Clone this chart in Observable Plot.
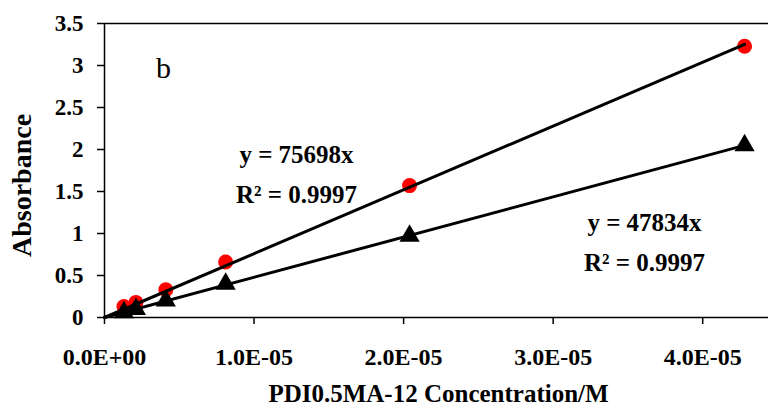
<!DOCTYPE html>
<html><head><meta charset="utf-8">
<script src="https://cdn.jsdelivr.net/npm/d3@7"></script>
<script src="https://cdn.jsdelivr.net/npm/@observablehq/plot@0.6"></script>
<style>
body{margin:0;background:#fff;}
svg text{font-family:"Liberation Serif","Times New Roman",serif;}
</style>
</head><body><div id="chart"></div>
<script>
// Data
const concentration = [1.3e-6, 2.1e-6, 4.1e-6, 8.1e-6, 2.04e-5, 4.28e-5];
const absorbanceCircle = [0.13, 0.18, 0.33, 0.66, 1.57, 3.23];
const absorbanceTriangle = [0.06, 0.10, 0.20, 0.40, 0.97, 2.05];
const xTicks = [0, 1e-5, 2e-5, 3e-5, 4e-5];
const xTickLabels = ["0.0E+00", "1.0E-05", "2.0E-05", "3.0E-05", "4.0E-05"];
const yTicks = [0, 0.5, 1, 1.5, 2, 2.5, 3, 3.5];
const yTickLabels = ["0", "0.5", "1", "1.5", "2", "2.5", "3", "3.5"];
const fitLabels = ["y = 75698x\nR² = 0.9997", "y = 47834x\nR² = 0.9997"];
const panelLabel = "b";
const xTitle = "PDI0.5MA-12 Concentration/M";
const yTitle = "Absorbance";
const xDomain = [0, 4.44e-5];
const yDomain = [0, 3.5];

const circles = concentration.map((x, i) => ({x, y: absorbanceCircle[i]}));
const triangles = concentration.map((x, i) => ({x, y: absorbanceTriangle[i]}));
function originFit(rows) {
  const sxy = d3.sum(rows, d => d.x * d.y), sxx = d3.sum(rows, d => d.x * d.x);
  const k = sxy / sxx, xmax = d3.max(rows, d => d.x);
  return [{x: 0, y: 0}, {x: xmax, y: k * xmax}];
}
const fitCircle = originFit(circles);
const fitTriangle = originFit(triangles);

const font = "Liberation Serif";
const chart = Plot.plot({
  width: 768, height: 410,
  marginLeft: 104, marginRight: 0, marginTop: 23, marginBottom: 93,
  style: {fontFamily: font, background: "#fff", color: "#000"},
  x: {domain: xDomain, label: null},
  y: {domain: yDomain, label: null},
  marks: [
    Plot.axisX({ticks: xTicks, tickFormat: d => xTickLabels[xTicks.indexOf(d)], tickSize: 7, tickPadding: 23,
      fontSize: 24, fontWeight: "bold", strokeWidth: 1.5, label: null}),
    Plot.axisY({ticks: yTicks, tickFormat: d => yTickLabels[yTicks.indexOf(d)], tickSize: 7, tickPadding: 14,
      fontSize: 23, fontWeight: "bold", strokeWidth: 1.5, label: null}),
    Plot.ruleY(yDomain, {stroke: "#000", strokeWidth: 1.5}),
    Plot.ruleX([xDomain[0]], {stroke: "#000", strokeWidth: 1.5}),
    Plot.dot(circles, {x: "x", y: "y", r: 7.5, fill: "#ff0000", stroke: "none"}),
    Plot.dot(triangles, {x: "x", y: "y", r: 7.5, symbol: "triangle", fill: "#000", stroke: "none"}),
    Plot.line(fitCircle, {x: "x", y: "y", stroke: "#000", strokeWidth: 3}),
    Plot.line(fitTriangle, {x: "x", y: "y", stroke: "#000", strokeWidth: 3}),
    Plot.text([fitLabels[0]], {text: d => d, frameAnchor: "top-left", dx: 192, dy: 111, textAnchor: "middle",
      lineAnchor: "top", lineHeight: 1.6, fontSize: 25, fontWeight: "bold", fontFamily: font, fill: "#000"}),
    Plot.text([fitLabels[1]], {text: d => d, frameAnchor: "top-left", dx: 540, dy: 179, textAnchor: "middle",
      lineAnchor: "top", lineHeight: 1.6, fontSize: 25, fontWeight: "bold", fontFamily: font, fill: "#000"}),
    Plot.text([panelLabel], {text: d => d, frameAnchor: "top-left", dx: 59, dy: 33, textAnchor: "middle",
      lineAnchor: "top", fontSize: 30, fontFamily: font, fill: "#000"}),
    Plot.text([yTitle], {text: d => d, frameAnchor: "left", dx: -82, dy: 15, rotate: -90, textAnchor: "middle",
      lineAnchor: "middle", fontSize: 28, fontWeight: "bold", fontFamily: font, fill: "#000"}),
    Plot.text([xTitle], {text: d => d, frameAnchor: "bottom", dx: 2, dy: 76, textAnchor: "middle",
      lineAnchor: "middle", fontSize: 25, fontWeight: "bold", fontFamily: font, fill: "#000"})
  ]
});
document.getElementById("chart").appendChild(chart);
</script>
</body></html>
